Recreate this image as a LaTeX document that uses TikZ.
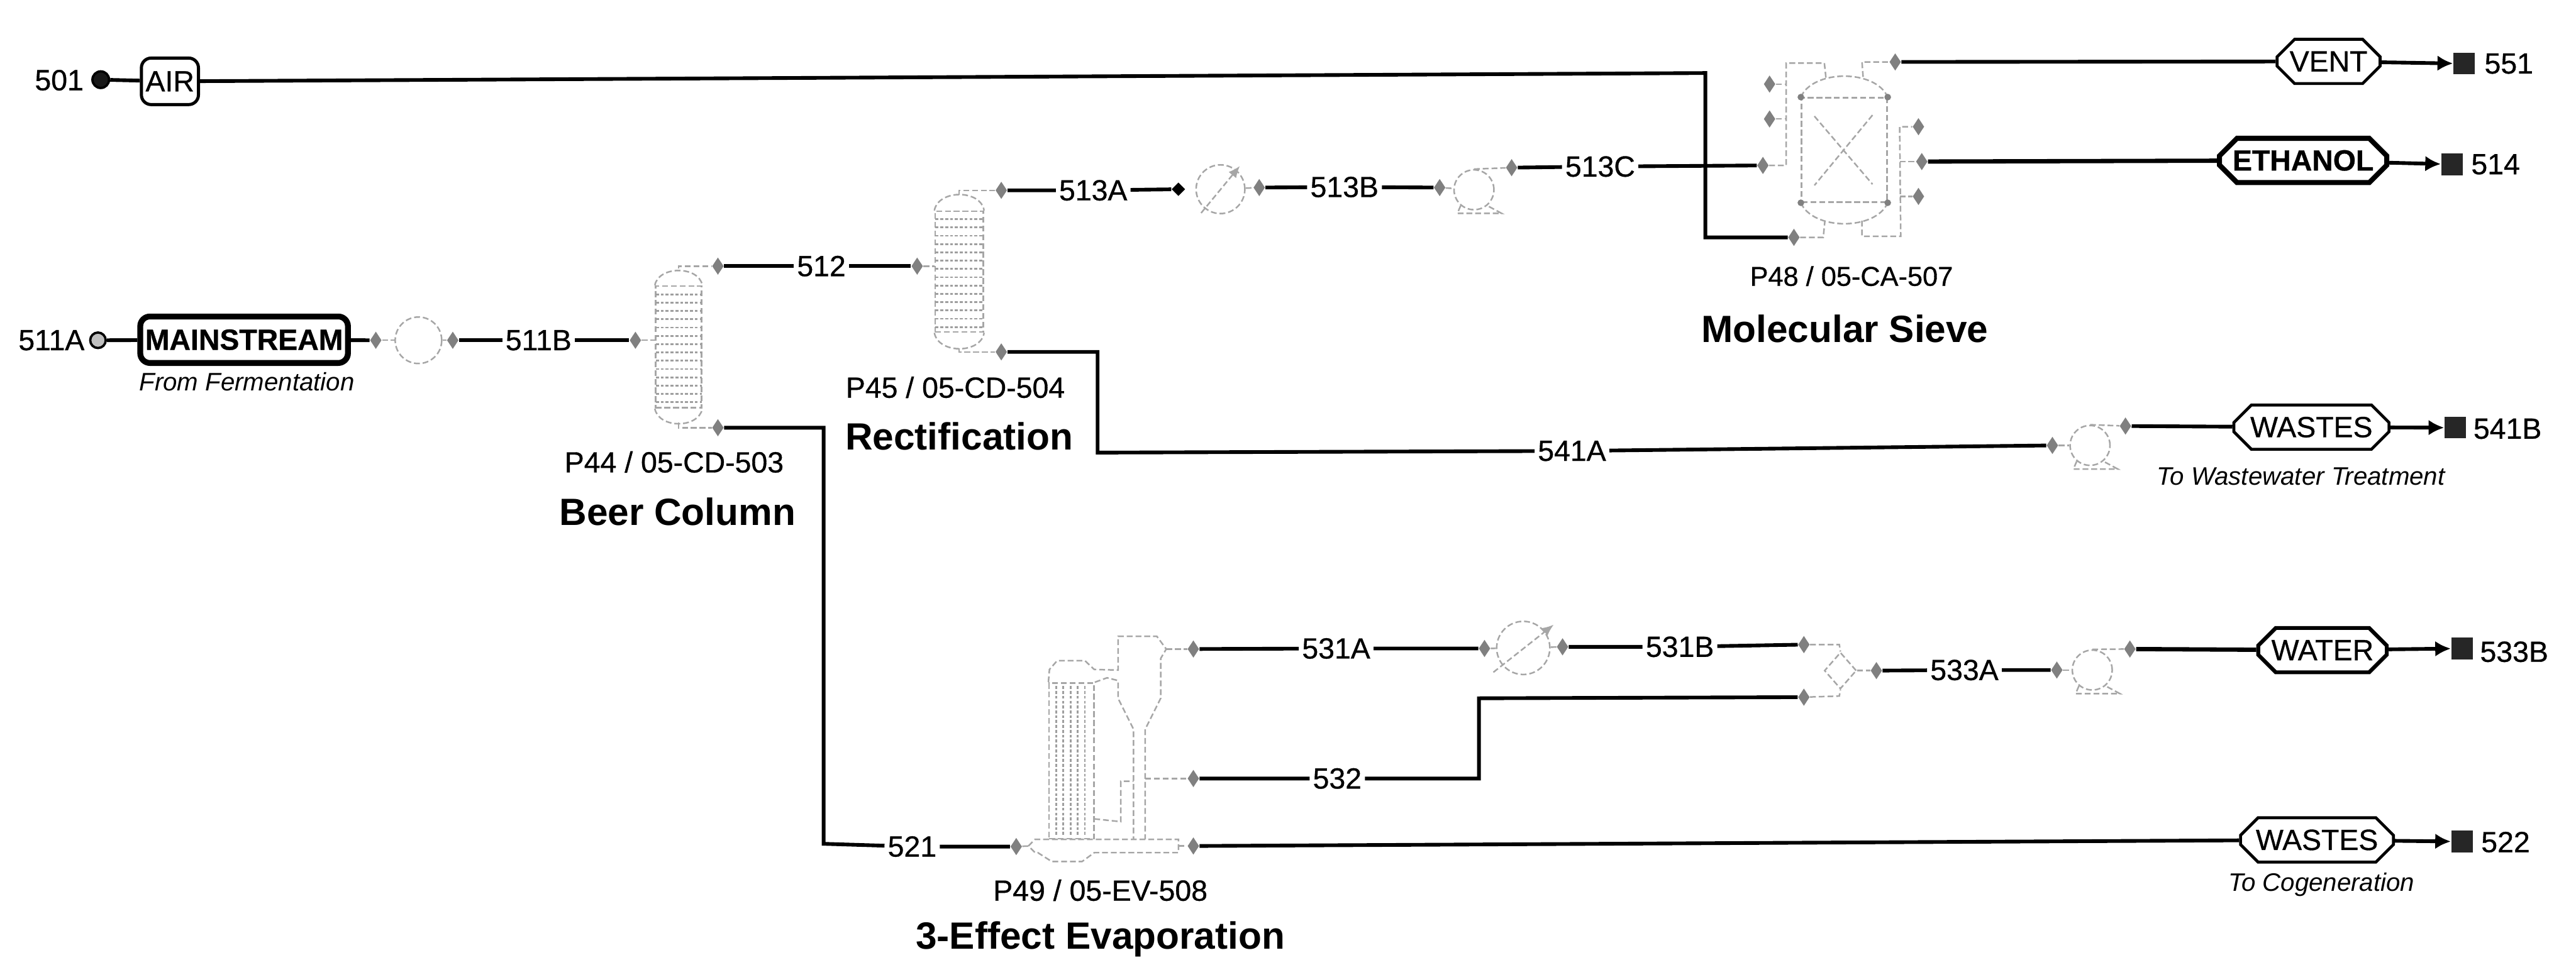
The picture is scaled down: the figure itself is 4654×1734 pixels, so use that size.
\documentclass[tikz,border=0pt]{standalone}
\usepackage{fontspec}
\setmainfont{Liberation Sans}
\newfontfamily\heavyfont[FakeBold=0.7]{Liberation Sans}
\usetikzlibrary{arrows.meta,shapes.misc,shapes.geometric}
\begin{document}
\begin{tikzpicture}[x=0.01cm, y=-0.01cm,
  stream/.style={line width=1.9pt, black},
  pipe/.style={line width=0.8pt, gray!70, dash pattern=on 3pt off 1.5pt},
  tray/.style={line width=0.9pt, gray!75, dash pattern=on 1.5pt off 1pt},
  unit/.style={draw, line width=0.8pt, gray!70, dash pattern=on 3pt off 1.5pt, inner sep=0pt},
  port/.style={diamond, fill=gray, inner sep=0pt, minimum width=6pt, minimum height=9pt},
  lab/.style={inner sep=1.5pt, font=\fontsize{15}{18}\heavyfont\selectfont},
  tag/.style={inner sep=0pt, font=\fontsize{15}{18}\heavyfont\selectfont},
  unitname/.style={inner sep=0pt, font=\fontsize{19.5}{22}\selectfont\bfseries},
  note/.style={inner sep=0pt, font=\fontsize{13}{15}\selectfont\itshape},
  product/.style={draw=black, line width=1.5pt, chamfered rectangle, chamfered rectangle xsep=3pt,
    chamfered rectangle ysep=6pt, inner sep=0pt, minimum height=0.8cm, font=\fontsize{15}{18}\heavyfont\selectfont},
  feed/.style={draw=black, rounded corners=5pt, inner sep=0pt, font=\fontsize{15}{18}\heavyfont\selectfont},
  source/.style={circle, draw=black, line width=1.2pt, fill=gray!80, inner sep=0pt, minimum size=0.3cm},
  terminal/.style={rectangle, fill=black!85, inner sep=0pt, minimum size=0.39cm},
  toend/.style={stream, -{Latex[length=8pt,width=8pt]}}]
  \useasboundingbox (0,0) rectangle (4654,1734);

  % feeds
  \node[lab] (n501) at (107,145) {501};
  \node[source, fill=gray!20!black] (src501) at (182,144) {};
  \node[feed, line width=1.6pt, minimum width=1.03cm, minimum height=0.84cm] (air) at (307,147) {AIR};
  \node[lab] (n511a) at (93,615) {511A};
  \node[source, fill=gray!50, minimum size=0.28cm] (src511) at (177,615) {};
  \node[feed, line width=3pt, minimum width=3.75cm, minimum height=0.84cm] (mainstream) at (441,614) {\bfseries MAINSTREAM};
  \node[note] (fromferm) at (446,690) {From Fermentation};

  % columns
  \node[unit, minimum width=0.83cm, minimum height=2.2cm] (col44) at (1226,627) {};
  \node[unit, minimum width=0.87cm, minimum height=2.18cm] (col45) at (1733,491) {};
  \foreach \y in {532,547,...,730} \draw[tray] (1185,\y) -- (1268,\y);
  \foreach \y in {396,411,...,595} \draw[tray] (1690,\y) -- (1777,\y);
  \draw[pipe] (col44.north west) .. controls (1190,480) and (1262,480) .. (col44.north east);
  \draw[pipe] (col44.south west) .. controls (1190,775) and (1262,775) .. (col44.south east);
  \draw[pipe] (col45.north west) .. controls (1695,342) and (1772,342) .. (col45.north east);
  \draw[pipe] (col45.south west) .. controls (1695,640) and (1772,640) .. (col45.south east);
  \node[tag] (tag44) at (1218,835) {P44 / 05-CD-503};
  \node[unitname] (name44) at (1224,925) {Beer Column};
  \node[tag] (tag45) at (1726,700) {P45 / 05-CD-504};
  \node[unitname] (name45) at (1733,789) {Rectification};

  % heaters and pumps
  \node[unit, circle, minimum size=0.84cm] (hx511) at (756,615) {};
  \node[unit, circle, minimum size=0.88cm] (hx513) at (2205,342) {};
  \node[unit, circle, minimum size=0.96cm] (hx531) at (2752,1171) {};
  \node[unit, circle, minimum size=0.72cm] (pump513) at (2663,343) {};
  \node[unit, circle, minimum size=0.72cm] (pump541) at (3776,805) {};
  \node[unit, circle, minimum size=0.72cm] (pump533) at (3780,1211) {};
  \foreach \n in {pump513,pump541,pump533}
    \draw[pipe] (\n.-130) -- ++(-6,14) -- ++(80,0) -- (\n.-50);
  \draw[pipe, -{Latex[length=6pt,width=5pt]}] (2170,385) -- (2240,300);
  \draw[pipe, -{Latex[length=6pt,width=5pt]}] (2698,1215) -- (2807,1129);

  % molecular sieve
  \node[unit, minimum width=1.54cm, minimum height=1.88cm] (sieve) at (3332,271) {};
  \draw[pipe] (sieve.north west) .. controls (3275,125) and (3389,125) .. (sieve.north east);
  \draw[pipe] (sieve.south west) .. controls (3275,417) and (3389,417) .. (sieve.south east);
  \draw[pipe] (3278,210) -- (3383,333);
  \draw[pipe] (3383,208) -- (3278,335);
  \fill[gray] (sieve.north west) circle (6) (sieve.north east) circle (6)
    (sieve.south west) circle (6) (sieve.south east) circle (6);
  \node[tag, font=\fontsize{14}{18}\heavyfont\selectfont] (tag48) at (3345,499) {P48 / 05-CA-507};
  \node[unitname] (name48) at (3333,594) {Molecular Sieve};

  % evaporator
  \node[unit, minimum width=0.81cm, minimum height=2.81cm] (calandria) at (1936,1375) {};
  \foreach \x in {1908,1921,...,1970} \draw[tray] (\x,1240) -- (\x,1512);
  \draw[pipe] (calandria.north west) -- (1896,1210) -- (1910,1194) -- (1960,1194) -- (1977,1210) -- (2020,1211)
    -- (2020,1150) -- (2090,1150) -- (2107,1173) -- (2097,1190) -- (2097,1262) -- (2069,1318) -- (2069,1517);
  \draw[pipe] (calandria.north east) -- (2000,1225) -- (2020,1230) -- (2020,1262) -- (2048,1318) -- (2048,1517);
  \draw[pipe] (1977,1480) -- (2025,1485) -- (2025,1412) -- (2048,1412);
  \draw[pipe] (1858,1529) -- (1870,1517) -- (2129,1517) -- (2129,1541) -- (1977,1541) -- (1955,1557)
    -- (1900,1557) -- (1875,1541) -- (1870,1541) -- cycle;
  \node[tag] (tag49) at (1988,1609) {P49 / 05-EV-508};
  \node[unitname] (name49) at (1988,1697) {3-Effect Evaporation};

  % mixer
  \node[unit, diamond, minimum width=0.58cm, minimum height=0.66cm] (mix533) at (3325,1212) {};

  % ports
  \foreach \n/\x/\y in {p511a/679/615, p511b/818/615, p511c/1148/615, p512a/1297/481, p521a/1297/773,
    p512b/1657/481, p513a/1809/344, p513c/2275/339, p513d/2601/339, p513e/2731/303, p513f/3185/299,
    p541a/1809/636, p541b/3708/805, p541c/3840/770, p501/3241/429, p551/3424/112, p514/3472/292,
    sidea/3197/152, sideb/3197/215, sidec/3466/229, sided/3466/355, p521b/1836/1530, p522/2156/1529,
    p531a/2156/1173, p531b/2682/1172, p531c/2823/1169, p531d/3259/1165, p532a/2156/1407, p532b/3259/1260,
    p533a/3390/1212, p533b/3716/1211, p533c/3848/1173}
    \node[port] (\n) at (\x,\y) {};
  \node[port, fill=black, minimum width=7pt, minimum height=7pt] (p513b) at (2129,342) {};

  % pipes inside the plant symbols
  \draw[pipe] (p511a) -- (hx511);
  \draw[pipe] (hx511) -- (p511b);
  \draw[pipe] (p511c) -- (p511c -| col44.west);
  \draw[pipe] (col44.north) ++(0,-30) |- (p512a);
  \draw[pipe] (col44.south) ++(0,25) |- (p521a);
  \draw[pipe] (p512b) -- (p512b -| col45.west);
  \draw[pipe] (col45.north) ++(0,-28) |- (p513a);
  \draw[pipe] (col45.south) ++(0,28) |- (p541a);
  \draw[pipe] (hx513) -- (p513c);
  \draw[pipe] (p513d) -- (pump513);
  \draw[pipe] (pump513.north) -- (p513e);
  \draw[pipe] (p513f) -- (3227,299) -- (3227,114) -- (3296,114) -- (3299,142);
  \draw[pipe] (sidea) -- (3227,152);
  \draw[pipe] (sideb) -- (3227,215);
  \draw[pipe] (p501) -- (3294,429) -- (3297,399);
  \draw[pipe] (3366,139) -- (3364,112) -- (p551);
  \draw[pipe] (3364,399) -- (3364,427) -- (3434,427) -- (3432,229) -- (sidec);
  \draw[pipe] (3432,292) -- (p514);
  \draw[pipe] (3432,355) -- (sided);
  \draw[pipe] (p541b) -- (pump541);
  \draw[pipe] (pump541.north) -- (p541c);
  \draw[pipe] (p521b) -- (1858,1529);
  \draw[pipe] (2129,1529) -- (p522);
  \draw[pipe] (2107,1173) -- (p531a);
  \draw[pipe] (2069,1407) -- (p532a);
  \draw[pipe] (p531b) -- (hx531);
  \draw[pipe] (hx531) -- (p531c);
  \draw[pipe] (p531d) -- (3323,1165) -- (mix533.north);
  \draw[pipe] (p532b) -- (3323,1258) -- (mix533.south);
  \draw[pipe] (mix533.east) -- (p533a);
  \draw[pipe] (p533b) -- (pump533);
  \draw[pipe] (pump533.north) -- (p533c);

  % stream labels
  \node[lab] (l511b) at (973,615) {511B};
  \node[lab] (l512) at (1484,481) {512};
  \node[lab] (l513a) at (1975,344) {513A};
  \node[lab] (l513b) at (2429,338) {513B};
  \node[lab] (l513c) at (2891,301) {513C};
  \node[lab] (l541a) at (2840,815) {541A};
  \node[lab] (l521) at (1648,1530) {521};
  \node[lab] (l531a) at (2414,1172) {531A};
  \node[lab] (l531b) at (3035,1169) {531B};
  \node[lab] (l532) at (2416,1407) {532};
  \node[lab] (l533a) at (3549,1211) {533A};

  % products
  \node[product, minimum width=1.86cm] (vent) at (4207,111) {VENT};
  \node[product, line width=2.6pt, minimum width=3.02cm] (ethanol) at (4161,290) {\bfseries ETHANOL};
  \node[product, minimum width=2.8cm] (wastesa) at (4176,772) {WASTES};
  \node[product, line width=2pt, minimum width=2.32cm] (water) at (4196,1175) {WATER};
  \node[product, minimum width=2.76cm] (wastesb) at (4186,1518) {WASTES};
  \node[note] (totreat) at (4157,861) {To Wastewater Treatment};
  \node[note] (tocogen) at (4194,1599) {To Cogeneration};
  \node[terminal] (t551) at (4452,115) {};
  \node[terminal] (t514) at (4430,297) {};
  \node[terminal] (t541) at (4436,773) {};
  \node[terminal] (t533) at (4448,1172) {};
  \node[terminal] (t522) at (4448,1521) {};
  \node[lab, anchor=west, inner sep=0pt] (n551) at (4488,115) {551};
  \node[lab, anchor=west, inner sep=0pt] (n514) at (4464,297) {514};
  \node[lab, anchor=west, inner sep=0pt] (n541) at (4468,775) {541B};
  \node[lab, anchor=west, inner sep=0pt] (n533) at (4480,1178) {533B};
  \node[lab, anchor=west, inner sep=0pt] (n522) at (4482,1522) {522};

  % corners
  \coordinate (airtop) at (3081,132);
  \coordinate (airlow) at (3081,429);
  \coordinate (bottomb) at (1488,773);
  \coordinate (bottomc) at (1488,1525);
  \coordinate (wastea) at (1983,636);
  \coordinate (wasteb) at (1983,818);
  \coordinate (vapa) at (2672,1407);
  \coordinate (vapb) at (2672,1262);

  % streams
  \draw[stream] (src501) -- (air);
  \draw[stream] (air) -- (airtop) -- (airlow) -- (p501);
  \draw[stream] (src511) -- (mainstream);
  \draw[stream] (mainstream) -- (p511a);
  \draw[stream] (p511b) -- (l511b) -- (p511c);
  \draw[stream] (p512a) -- (l512) -- (p512b);
  \draw[stream] (p513a) -- (l513a) -- (p513b);
  \draw[stream] (p513c) -- (l513b) -- (p513d);
  \draw[stream] (p513e) -- (l513c) -- (p513f);
  \draw[stream] (p541a) -- (wastea) -- (wasteb) -- (l541a) -- (p541b);
  \draw[stream] (p521a) -- (bottomb) -- (bottomc) -- (l521) -- (p521b);
  \draw[stream] (p531a) -- (l531a) -- (p531b);
  \draw[stream] (p531c) -- (l531b) -- (p531d);
  \draw[stream] (p532a) -- (l532) -- (vapa) -- (vapb) -- (p532b);
  \draw[stream] (p533a) -- (l533a) -- (p533b);
  \draw[stream] (p551) -- (vent);
  \draw[stream, line width=2.2pt] (p514) -- (ethanol);
  \draw[stream] (p541c) -- (wastesa);
  \draw[stream, line width=2.2pt] (p533c) -- (water);
  \draw[stream] (p522) -- (wastesb);
  \draw[toend] (vent) -- (t551);
  \draw[toend] (ethanol) -- (t514);
  \draw[toend] (wastesa) -- (t541);
  \draw[toend] (water) -- (t533);
  \draw[toend] (wastesb) -- (t522);
\end{tikzpicture}
\end{document}
